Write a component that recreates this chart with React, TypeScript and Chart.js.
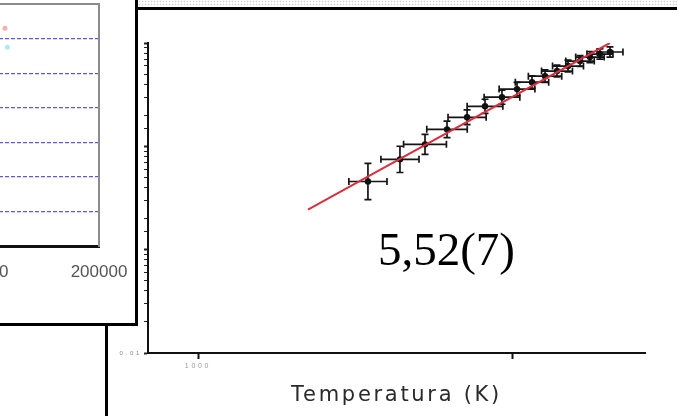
import React, { useEffect, useRef } from 'react';
import { Chart, registerables } from 'chart.js';
Chart.register(...registerables);

// ---- main chart data ----
const temperatureK = [3477, 4397, 5284, 6209, 7194, 8204, 9290, 10375, 11580, 12740, 13910, 15080, 16470, 17710, 19060, 20510];
const signal = [0.457, 0.748, 1.045, 1.46, 1.91, 2.44, 2.99, 3.58, 4.18, 4.78, 5.35, 5.98, 6.69, 7.31, 7.82, 8.18];
const xErrFactor = [1.15, 1.15, 1.17, 1.16, 1.15, 1.14, 1.14, 1.14, 1.13, 1.13, 1.12, 1.12, 1.11, 1.11, 1.1, 1.1];
const yErrFactor = [1.5, 1.34, 1.25, 1.2, 1.18, 1.17, 1.17, 1.16, 1.15, 1.15, 1.14, 1.14, 1.13, 1.13, 1.12, 1.12];
const fitX = [2240, 20500];
const fitY = [0.244, 10];
const xTickValues = [1000, 10000];
const xTickLabels = ['1000', ''];
const xRange = [693, 26520];
const yRange = [0.01, 10];
const yLabeledValues = [0.01];
const xTitle = 'Temperatura (K)';
const exponentText = '5,52(7)';
const exponentAnchor = [3740, 0.0715];

// ---- inset data ----
const insetXRange = [0, 200000];
const insetXStep = 100000;
const insetYRange = [0, 7];
const insetX = [121000, 123000];
const insetY = [6.3, 5.75];

const errorBars = {
  id: 'errorBars',
  beforeDatasetsDraw(chart: any) {
    const { ctx, scales } = chart;
    const x = scales.x, y = scales.y;
    ctx.save();
    ctx.strokeStyle = '#151515';
    ctx.lineWidth = 1.7;
    const cap = 3.5;
    temperatureK.forEach((t, i) => {
      const v = signal[i];
      const px = x.getPixelForValue(t);
      const py = y.getPixelForValue(v);
      const x0 = x.getPixelForValue(t / xErrFactor[i]);
      const x1 = x.getPixelForValue(t * xErrFactor[i]);
      const y0 = y.getPixelForValue(v / yErrFactor[i]);
      const y1 = y.getPixelForValue(v * yErrFactor[i]);
      ctx.beginPath();
      ctx.moveTo(x0, py); ctx.lineTo(x1, py);
      ctx.moveTo(x0, py - cap); ctx.lineTo(x0, py + cap);
      ctx.moveTo(x1, py - cap); ctx.lineTo(x1, py + cap);
      ctx.moveTo(px, y0); ctx.lineTo(px, y1);
      ctx.moveTo(px - cap, y0); ctx.lineTo(px + cap, y0);
      ctx.moveTo(px - cap, y1); ctx.lineTo(px + cap, y1);
      ctx.stroke();
    });
    ctx.restore();
  },
};

const spacing = {
  id: 'spacing',
  beforeDraw(chart: any) {
    (chart.ctx as any).letterSpacing = '2.7px';
  },
  beforeDatasetsDraw(chart: any) {
    (chart.ctx as any).letterSpacing = '0px';
  },
};

const exponentLabel = {
  id: 'exponentLabel',
  afterDraw(chart: any) {
    const { ctx, scales } = chart;
    ctx.save();
    (ctx as any).letterSpacing = '0px';
    ctx.font = '47px "Liberation Serif"';
    ctx.fillStyle = '#000';
    ctx.textAlign = 'left';
    ctx.textBaseline = 'alphabetic';
    ctx.fillText(exponentText, scales.x.getPixelForValue(exponentAnchor[0]), scales.y.getPixelForValue(exponentAnchor[1]));
    ctx.restore();
  },
};

const isDecade = (v: number) => Math.abs(Math.log10(v) - Math.round(Math.log10(v))) < 1e-6;

export default function App() {
  const mainRef = useRef<HTMLCanvasElement>(null);
  const insetRef = useRef<HTMLCanvasElement>(null);

  useEffect(() => {
    const main = new Chart(mainRef.current as HTMLCanvasElement, {
      type: 'scatter',
      data: {
        datasets: [
          {
            label: 'fit',
            data: fitX.map((x, i) => ({ x, y: fitY[i] })),
            showLine: true,
            borderColor: '#d8303c',
            borderWidth: 2,
            pointRadius: 0,
          } as any,
          {
            label: 'data',
            data: temperatureK.map((x, i) => ({ x, y: signal[i] })),
            backgroundColor: '#111',
            borderWidth: 0,
            pointRadius: 3.2,
          },
        ],
      },
      options: {
        animation: false,
        responsive: false,
        events: [],
        layout: { padding: { left: 0, top: 43, right: 32, bottom: 0 } },
        plugins: { legend: { display: false }, tooltip: { enabled: false } },
        scales: {
          x: {
            type: 'logarithmic',
            min: xRange[0],
            max: xRange[1],
            afterFit: (s: any) => { s.height = 63; },
            afterBuildTicks: (s: any) => { s.ticks = xTickValues.map((value) => ({ value })); },
            border: { display: true, color: '#111', width: 2 },
            grid: { drawOnChartArea: false, drawTicks: true, tickLength: 6, tickColor: '#111', tickWidth: 2 },
            ticks: {
              autoSkip: false,
              maxRotation: 0,
              padding: 3,
              color: '#999',
              font: { family: 'Liberation Sans', size: 7 },
              callback: (_v: any, i: number) => xTickLabels[i] ?? '',
            },
            title: {
              display: true,
              text: xTitle,
              color: '#2a2a2a',
              font: { family: 'DejaVu Sans', size: 21 },
              padding: { top: 0, bottom: 8 },
            },
          },
          y: {
            type: 'logarithmic',
            min: yRange[0],
            max: yRange[1],
            afterFit: (s: any) => { s.width = 148; },
            border: { display: true, color: '#111', width: 2 },
            grid: {
              drawOnChartArea: false,
              drawTicks: true,
              tickLength: 4,
              tickColor: '#222',
              tickWidth: (c: any) => (isDecade(c.tick.value) ? 2 : 1),
            },
            ticks: {
              autoSkip: false,
              padding: 2,
              color: '#888',
              font: { family: 'Liberation Sans', size: 6 },
              callback: (v: any) =>
                yLabeledValues.some((lv) => Math.abs(lv - Number(v)) < 1e-9) ? String(v) : '',
            },
          },
        },
      } as any,
      plugins: [errorBars, spacing, exponentLabel],
    });

    const inset = new Chart(insetRef.current as HTMLCanvasElement, {
      type: 'scatter',
      data: {
        datasets: [
          {
            data: insetX.map((x, i) => ({ x, y: insetY[i] })),
            backgroundColor: ['rgba(240,120,120,0.6)', 'rgba(120,220,230,0.6)'],
            borderWidth: 0,
            pointRadius: 2.5,
          },
        ],
      },
      options: {
        animation: false,
        responsive: false,
        events: [],
        layout: { padding: { left: 0, top: 3, right: 50, bottom: 0 } },
        plugins: { legend: { display: false }, tooltip: { enabled: false } },
        scales: {
          x: {
            type: 'linear',
            position: 'bottom',
            min: insetXRange[0],
            max: insetXRange[1],
            afterFit: (s: any) => { s.height = 77; },
            border: { display: true, color: '#111', width: 3 },
            grid: { drawOnChartArea: false, drawTicks: false },
            ticks: {
              stepSize: insetXStep,
              autoSkip: false,
              maxRotation: 0,
              padding: 16,
              color: '#555',
              font: { family: 'Liberation Sans', size: 17 },
              callback: (v: any) => String(v),
            },
          },
          xTop: {
            type: 'linear',
            position: 'top',
            min: insetXRange[0],
            max: insetXRange[1],
            afterFit: (s: any) => { s.height = 0; },
            border: { display: true, color: '#8c8c8c', width: 2 },
            grid: { drawOnChartArea: false, drawTicks: false },
            ticks: { display: false },
          },
          y: {
            type: 'linear',
            min: insetYRange[0],
            max: insetYRange[1],
            afterFit: (s: any) => { s.width = 61; },
            border: { display: false, dash: [4, 2] },
            grid: {
              drawTicks: false,
              lineWidth: 1.2,
              color: (c: any) =>
                c.tick && c.tick.value > insetYRange[0] && c.tick.value < insetYRange[1] ? '#5b5bd9' : 'rgba(0,0,0,0)',
            },
            ticks: { display: false, stepSize: 1 },
          },
          yRight: {
            type: 'linear',
            position: 'right',
            min: insetYRange[0],
            max: insetYRange[1],
            afterFit: (s: any) => { s.width = 0; },
            border: { display: true, color: '#8c8c8c', width: 2 },
            grid: { drawOnChartArea: false, drawTicks: false },
            ticks: { display: false },
          },
        },
      } as any,
    });

    return () => {
      main.destroy();
      inset.destroy();
    };
  }, []);

  return (
    <div style={{ position: 'fixed', left: 0, top: 0, width: 677, height: 416, overflow: 'hidden', background: '#fff' }}>
      <div
        style={{
          position: 'absolute', left: 138, top: 0, width: 539, height: 7,
          background: 'radial-gradient(circle, #d0d0d0 0.7px, transparent 1.1px) 0 0 / 3px 3px',
        }}
      />
      <div
        style={{
          position: 'absolute', left: 105, top: 7, width: 572, height: 409, boxSizing: 'border-box',
          borderTop: '3px solid #000', borderLeft: '3px solid #000',
        }}
      />
      <canvas ref={mainRef} width={677} height={416} style={{ position: 'absolute', left: 0, top: 0, width: 677, height: 416 }} />
      <div
        style={{
          position: 'absolute', left: 0, top: 0, width: 135, height: 323,
          borderRight: '3px solid #000', borderBottom: '3px solid #000', background: '#fff', overflow: 'hidden',
        }}
      >
        <canvas ref={insetRef} width={349} height={323} style={{ position: 'absolute', left: -200, top: 0, width: 349, height: 323 }} />
      </div>
    </div>
  );
}
